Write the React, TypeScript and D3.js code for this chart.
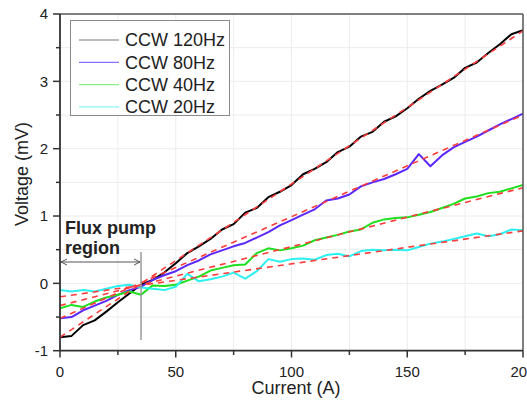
import React from "react";
import * as d3 from "d3";

const currents = [0, 5, 10, 15, 20, 25, 30, 35, 40, 45, 50, 55, 60, 65, 70, 75, 80, 85, 90, 95, 100, 105, 110, 115, 120, 125, 130, 135, 140, 145, 150, 155, 160, 165, 170, 175, 180, 185, 190, 195, 200];

const v120 = [-0.80, -0.78, -0.62, -0.55, -0.42, -0.28, -0.15, -0.02, 0.05, 0.16, 0.30, 0.45, 0.55, 0.66, 0.80, 0.88, 1.05, 1.12, 1.28, 1.36, 1.46, 1.62, 1.70, 1.80, 1.95, 2.03, 2.18, 2.25, 2.40, 2.48, 2.60, 2.74, 2.86, 2.95, 3.05, 3.20, 3.28, 3.42, 3.55, 3.70, 3.76];
const v80 = [-0.52, -0.50, -0.40, -0.33, -0.26, -0.17, -0.10, -0.05, 0.05, 0.12, 0.18, 0.27, 0.34, 0.43, 0.49, 0.55, 0.60, 0.68, 0.76, 0.86, 0.94, 1.02, 1.10, 1.23, 1.26, 1.32, 1.44, 1.50, 1.55, 1.62, 1.70, 1.92, 1.74, 1.90, 2.02, 2.10, 2.18, 2.27, 2.36, 2.44, 2.52];
const v40 = [-0.37, -0.32, -0.35, -0.27, -0.21, -0.17, -0.12, -0.17, -0.03, -0.04, -0.02, 0.04, 0.10, 0.19, 0.23, 0.27, 0.28, 0.45, 0.52, 0.49, 0.52, 0.56, 0.64, 0.68, 0.72, 0.77, 0.80, 0.90, 0.95, 0.97, 0.98, 1.02, 1.06, 1.12, 1.18, 1.26, 1.29, 1.34, 1.36, 1.41, 1.46];
const v20 = [-0.10, -0.12, -0.10, -0.12, -0.08, -0.04, -0.02, -0.06, -0.08, -0.10, -0.05, 0.14, 0.03, 0.06, 0.10, 0.16, 0.07, 0.18, 0.36, 0.32, 0.36, 0.37, 0.35, 0.42, 0.44, 0.40, 0.48, 0.50, 0.49, 0.50, 0.49, 0.54, 0.59, 0.62, 0.66, 0.70, 0.74, 0.70, 0.73, 0.80, 0.79];

const seriesLabels = ["CCW 120Hz", "CCW 80Hz", "CCW 40Hz", "CCW 20Hz"];
const fitStart = [-0.80, -0.52, -0.33, -0.20];
const fitEnd = [3.75, 2.50, 1.42, 0.78];

const xTicks = [0, 50, 100, 150, 200];
const xMinor = [25, 75, 125, 175];
const yTicks = [-1, 0, 1, 2, 3, 4];
const yMinor = [-0.5, 0.5, 1.5, 2.5, 3.5];
const regionBoundary = 35;

const colors = ["#000000", "#5a28ff", "#1ee01e", "#2ef0f0"];
const legendColors = ["#7a7a7a", "#8a70ff", "#8af08a", "#8af6f6"];
const FONT = "'Liberation Sans', Arial, sans-serif";

export default function App() {
  const W = 527, H = 401;
  const x = d3.scaleLinear().domain([0, 200]).range([60, 523]);
  const y = d3.scaleLinear().domain([-1, 4]).range([350.7, 14]);
  const all = [v120, v80, v40, v20];
  const line = d3.line<[number, number]>().x(d => x(d[0])).y(d => y(d[1]));
  const gridX = [...xTicks, ...xMinor].filter(v => v > 0 && v < 200);
  const gridY = [...yTicks, ...yMinor].filter(v => v > -1 && v < 4);
  const bx = x(regionBoundary);
  const ay = 262;
  return (
    <svg width={W} height={H} style={{ position: "absolute", left: 0, top: 0, background: "#fff" }} fontFamily={FONT}>
      <defs>
        <clipPath id="plot"><rect x={60} y={14} width={463} height={336.7} /></clipPath>
      </defs>
      {gridX.map(v => <line key={"gx" + v} x1={x(v)} x2={x(v)} y1={14} y2={350.7} stroke="#ececec" strokeWidth={1} />)}
      {gridY.map(v => <line key={"gy" + v} x1={60} x2={523} y1={y(v)} y2={y(v)} stroke="#ececec" strokeWidth={1} />)}
      <g clipPath="url(#plot)">
        {all.map((vals, i) => (
          <path key={"s" + i} d={line(currents.map((c, j) => [c, vals[j]] as [number, number])) || ""} fill="none" stroke={colors[i]} strokeWidth={2} strokeLinejoin="round" />
        ))}
        {fitStart.map((s, i) => (
          <line key={"f" + i} x1={x(0)} y1={y(s)} x2={x(200)} y2={y(fitEnd[i])} stroke="#ff3b3b" strokeWidth={1.6} strokeDasharray="6,5" />
        ))}
      </g>
      <line x1={60} x2={523} y1={14} y2={14} stroke="#555" strokeWidth={1.5} />
      <line x1={523} x2={523} y1={14} y2={350.7} stroke="#555" strokeWidth={1.5} />
      <line x1={60} x2={523} y1={350.7} y2={350.7} stroke="#333" strokeWidth={1.8} />
      <line x1={60} x2={60} y1={14} y2={350.7} stroke="#333" strokeWidth={1.8} />
      {xTicks.map(v => (
        <g key={"xt" + v}>
          <line x1={x(v)} x2={x(v)} y1={350.7} y2={357.5} stroke="#333" strokeWidth={1.5} />
          <text x={x(v)} y={377} fontSize={15} textAnchor="middle" fill="#222">{v}</text>
        </g>
      ))}
      {xMinor.map(v => <line key={"xm" + v} x1={x(v)} x2={x(v)} y1={350.7} y2={355} stroke="#333" strokeWidth={1.5} />)}
      {yTicks.map(v => (
        <g key={"yt" + v}>
          <line x1={53} x2={60} y1={y(v)} y2={y(v)} stroke="#333" strokeWidth={1.5} />
          <text x={48} y={y(v) + 5.3} fontSize={15} textAnchor="end" fill="#222">{v}</text>
        </g>
      ))}
      {yMinor.map(v => <line key={"ym" + v} x1={56} x2={60} y1={y(v)} y2={y(v)} stroke="#333" strokeWidth={1.5} />)}
      <text x={296} y={394} fontSize={18} textAnchor="middle" fill="#222">Current (A)</text>
      <text transform={`translate(28,174) rotate(-90)`} fontSize={18} textAnchor="middle" fill="#222">Voltage (mV)</text>
      <line x1={bx} x2={bx} y1={252} y2={340} stroke="#9a9a9a" strokeWidth={1.5} />
      <line x1={61} x2={bx - 1} y1={ay} y2={ay} stroke="#555" strokeWidth={1} />
      <path d={`M${67},${ay - 3} L${61},${ay} L${67},${ay + 3}`} fill="none" stroke="#555" strokeWidth={1} />
      <path d={`M${bx - 7},${ay - 3} L${bx - 1},${ay} L${bx - 7},${ay + 3}`} fill="none" stroke="#555" strokeWidth={1} />
      <text x={65} y={234} fontSize={18} fontWeight="bold" fill="#222">Flux pump</text>
      <text x={65} y={254} fontSize={18} fontWeight="bold" fill="#222">region</text>
      <rect x={70.5} y={20.5} width={159} height={95} fill="#fff" stroke="#8a8a8a" strokeWidth={1} />
      {seriesLabels.map((lab, i) => {
        const ly = 40 + i * 22.3;
        return (
          <g key={"lg" + i}>
            <line x1={79} x2={119} y1={ly} y2={ly} stroke={legendColors[i]} strokeWidth={1.2} />
            <text x={125} y={ly + 6.3} fontSize={18} fill="#222">{lab}</text>
          </g>
        );
      })}
    </svg>
  );
}
